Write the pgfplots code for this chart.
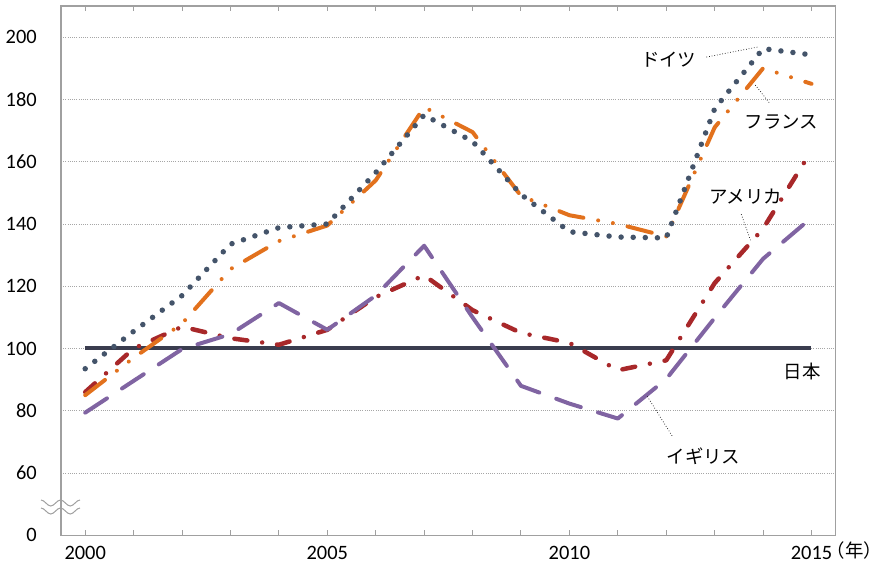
\documentclass[border=0pt]{standalone}
\usepackage{fontspec}
\setmainfont{Carlito}
\newfontfamily\cjk{Noto Sans CJK JP}
\newfontfamily\cjkh[RawFeature=+halt]{Noto Sans CJK JP}
\usepackage{pgfplots}
\pgfplotsset{compat=1.18}
\definecolor{de}{HTML}{44546A}
\definecolor{fr}{HTML}{E2711D}
\definecolor{us}{HTML}{A8282A}
\definecolor{uk}{HTML}{8064A2}
\definecolor{jp}{HTML}{3A3D4F}
\definecolor{axisc}{HTML}{A0A0A0}
\definecolor{gridc}{HTML}{A6A6A6}
\begin{document}
\begin{tikzpicture}
\path[use as bounding box] (0,0) rectangle (882bp,564bp);
\begin{axis}[
  at={(61bp,28.7bp)}, anchor=south west,
  scale only axis, width=774.7bp, height=529.3bp,
  xmin=1999.5, xmax=2015.5, ymin=40, ymax=210,
  clip=false,
  xtick={2000,2005,2010,2015},
  xticklabels={2000,2005,2010,2015},
  minor xtick={2001,2002,2003,2004,2006,2007,2008,2009,2011,2012,2013,2014},
  ytick={60,80,...,200},
  extra y ticks={40}, extra y tick labels={0},
  extra y tick style={grid=none},
  ymajorgrids,
  grid style={color=gridc, line width=0.8bp, dash pattern=on 1bp off 1.2bp},
  axis line style={color=axisc, line width=1.5bp},
  tick style={color=axisc, line width=1bp},
  tick align=inside,
  major tick length=5bp, minor tick length=5bp,
  ytick style={draw=none},
  /pgf/number format/assume math mode=true,
  xticklabel style={font=\fontsize{20.5}{24}\selectfont, anchor=base, yshift=-24bp, inner sep=0pt},
  yticklabel style={font=\fontsize{20.5}{24}\selectfont, anchor=east, xshift=-24bp, inner sep=0pt},
]
% Japan
\addplot[jp, line width=4bp] coordinates {(2000,100) (2015,100)};
% USA
\addplot[us, line width=4.5bp, line cap=round, line join=round, dash pattern=on 13bp off 15bp on 0bp off 15bp] coordinates {
(2000,86) (2001,100) (2002,107) (2003,103.3) (2004,101.2) (2005,106) (2006,116.5) (2007,123.5)
(2008,112.3) (2009,105) (2010,101.8) (2011,93) (2012,96.2) (2013,121) (2014,138.5) (2015,163.5)};
% UK
\addplot[uk, line width=4bp, line cap=round, line join=round, dash pattern=on 26bp off 18bp] coordinates {
(2000,79.4) (2001,89.6) (2002,99.8) (2003,104.6) (2004,114.6) (2005,106) (2006,117) (2007,133)
(2008,110) (2009,88) (2010,82.3) (2011,77.5) (2012,90.2) (2013,109.8) (2014,128.8) (2015,142)};
% France
\addplot[fr, line width=4bp, line cap=round, line join=round, dash pattern=on 25bp off 15bp on 0bp off 15bp on 0bp off 15bp] coordinates {
(2000,85) (2001,97) (2002,108) (2003,125.5) (2004,134.5) (2005,139.5) (2006,154) (2007,177.5)
(2008,169.5) (2009,149) (2010,142.8) (2011,140) (2012,136) (2013,171) (2014,190) (2015,185)};
% Germany
\addplot[de, line width=5.5bp, line cap=round, line join=round, dash pattern=on 0bp off 12.1bp] coordinates {
(2000,93.5) (2001,105.5) (2002,117) (2003,133.5) (2004,138.8) (2005,140) (2006,156.5) (2007,175)
(2008,166.5) (2009,149.5) (2010,137.5) (2011,135.8) (2012,135.5) (2013,177) (2014,196.3) (2015,194.3)};

% leader lines
\draw[black, line width=0.7bp, dotted] (axis cs:2012.83,193.6) -- (axis cs:2013.88,196.8);
\draw[black, line width=0.7bp, dotted] (axis cs:2013.84,184.6) -- (axis cs:2014.15,178.5);
\draw[black, line width=0.7bp, dotted] (axis cs:2013.55,143.1) -- (axis cs:2013.74,134.8);
\draw[black, line width=0.7bp, dotted] (axis cs:2011.61,84.6) -- (axis cs:2012.13,71.7);
% labels
\node[font=\cjk\fontsize{18.5}{22}\selectfont, inner sep=0pt] at (axis cs:2012.05,192.6) {ドイツ};
\node[font=\cjk\fontsize{18.5}{22}\selectfont, inner sep=0pt] at (axis cs:2014.38,172.7) {フランス};
\node[font=\cjk\fontsize{18.5}{22}\selectfont, inner sep=0pt] at (axis cs:2013.64,148.7) {アメリカ};
\node[font=\cjk\fontsize{18.5}{22}\selectfont, inner sep=0pt] at (axis cs:2012.77,65.5) {イギリス};
\node[font=\cjk\fontsize{18.5}{22}\selectfont, inner sep=0pt] at (axis cs:2014.81,92.6) {日本};
\end{axis}
% year unit
\node[font=\cjkh\fontsize{18.5}{22}\selectfont, inner sep=0pt, anchor=base west] at (836bp,6.5bp) {（年）};
% axis break mark
\draw[color=axisc, line width=1bp] (41bp,64bp) cos (45.875bp,61bp) sin (50.75bp,58bp) cos (55.625bp,61bp) sin (60.5bp,64bp) cos (65.375bp,61bp) sin (70.25bp,58bp) cos (75.125bp,61bp) sin (80bp,64bp);
\draw[color=axisc, line width=1bp] (41bp,56bp) cos (45.875bp,53bp) sin (50.75bp,50bp) cos (55.625bp,53bp) sin (60.5bp,56bp) cos (65.375bp,53bp) sin (70.25bp,50bp) cos (75.125bp,53bp) sin (80bp,56bp);
\end{tikzpicture}
\end{document}
